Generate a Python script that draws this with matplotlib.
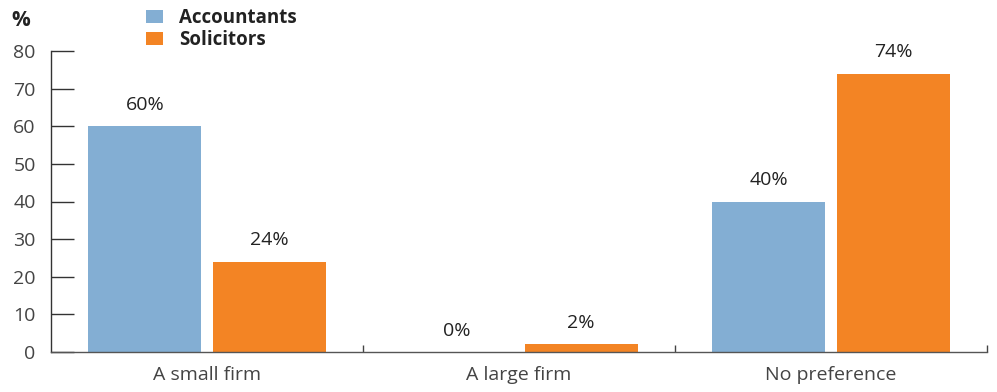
import matplotlib
matplotlib.use("Agg")
import matplotlib.pyplot as plt
import numpy as np

categories = ["A small firm", "A large firm", "No preference"]
accountants = [60, 0, 40]
solicitors = [24, 2, 74]
series_names = ["Accountants", "Solicitors"]
yticks = [0, 10, 20, 30, 40, 50, 60, 70, 80]

plt.rcParams['font.family'] = ['Open Sans', 'DejaVu Sans']

fig = plt.figure(figsize=(9.97, 3.92), dpi=100)
ax = fig.add_axes([51/997, 40/392, (987-51)/997, (352-51)/392])

x = np.arange(len(categories))
w = 0.362
off = 0.199
blue = "#83AED3"
orange = "#F38424"
b1 = ax.bar(x - off, accountants, w, color=blue, label=series_names[0], zorder=1)
b2 = ax.bar(x + off, solicitors, w, color=orange, label=series_names[1], zorder=1)

for bars, vals in ((b1, accountants), (b2, solicitors)):
    for r, v in zip(bars, vals):
        ax.annotate(f"{v}%", (r.get_x() + r.get_width()/2, v), xytext=(0, 9),
                    textcoords="offset points", ha="center", va="bottom",
                    fontsize=14, color="#222222")

ax.set_xlim(-0.5, 2.5)
ax.set_ylim(0, 80)
ax.set_yticks(yticks)
ax.set_xticks(x)
ax.set_xticklabels(categories)
ax.set_xticks([0.5, 1.5, 2.5], minor=True)

for s in ("top", "right"):
    ax.spines[s].set_visible(False)
ax.spines["left"].set_color("#333333")
ax.spines["bottom"].set_color("#555555")
ax.spines["left"].set_linewidth(1)
ax.spines["bottom"].set_linewidth(1)

ax.tick_params(axis="y", direction="in", length=16.5, width=1, color="#333333",
               labelsize=14, labelcolor="#444444", pad=11)
ax.tick_params(axis="x", which="major", length=0, labelsize=14, labelcolor="#444444", pad=10)
ax.tick_params(axis="x", which="minor", direction="in", length=5, width=1, color="#444444")

fig.text(11/997, 1 - 21/392, "%", fontsize=15, fontweight="bold", color="#222222", va="center", ha="left")

leg = fig.legend(handles=[b1, b2], labels=series_names, loc="upper left",
                 bbox_to_anchor=(146/997, 1 - 8/392), frameon=False,
                 prop={"size": 13.5, "weight": "bold"}, handlelength=0.9, handleheight=0.65,
                 handletextpad=0.85, labelspacing=0.1, borderaxespad=0, borderpad=0)
for t in leg.get_texts():
    t.set_color("#222222")

fig.savefig("out.png", dpi=100)
